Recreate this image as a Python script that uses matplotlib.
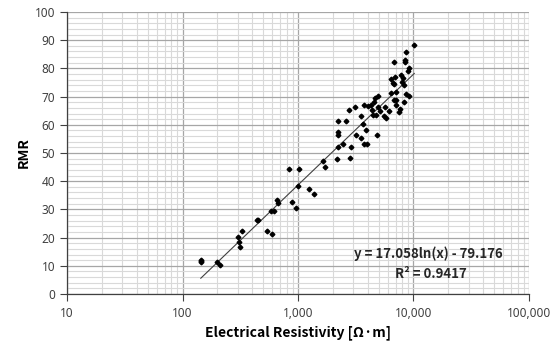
import numpy as np
import matplotlib.pyplot as plt
from matplotlib.ticker import FixedLocator, FuncFormatter, LogLocator, MultipleLocator

plt.rcParams['font.family'] = ['Noto Sans', 'DejaVu Sans']
bold_font = ['Noto Sans CJK KR', 'DejaVu Sans']

# resistivity [ohm.m] and RMR
resistivity = [145, 146, 144, 198, 211,
               304, 325, 306, 316, 444, 452, 542, 591, 580, 620, 654, 675,
               841, 1014, 1000, 1245, 1377, 881, 955, 1640, 1710,
               10160, 8610, 6770, 8440, 8520, 9140, 9030, 6340, 6920, 7750,
               8060, 6590, 6800, 7920, 8220, 7000, 8610, 9220, 6340, 7100,
               6770, 8320, 7640, 7480, 7070, 4900, 4640, 4550, 4260, 4070,
               3750, 3130, 2780, 4900, 5130, 5670, 6180, 5580, 5750, 4490,
               4720, 3490, 4350, 2210, 2620, 2210, 2220, 3630, 3850, 3170,
               3490, 4860, 2430, 2210, 2890, 3700, 3950, 2160, 2800]
rmr = [12.0, 11.2, 11.6, 11.4, 10.4,
       20.3, 22.4, 18.5, 16.5, 26.2, 26.2, 22.4, 21.3, 29.4, 29.4, 33.3, 32.4,
       44.2, 44.2, 38.4, 37.2, 35.4, 32.5, 30.4, 47.3, 45.2,
       88.2, 85.9, 82.2, 83.0, 82.2, 80.0, 79.2, 76.1, 77.1, 77.7,
       76.5, 74.7, 74.5, 75.3, 74.1, 71.7, 70.9, 70.2, 71.2, 68.8,
       68.8, 68.2, 65.7, 64.6, 67.0, 70.3, 69.4, 68.2, 67.0, 66.7,
       67.0, 66.2, 65.2, 66.2, 65.0, 66.2, 65.0, 63.1, 62.3, 63.4,
       63.4, 63.2, 65.2, 61.3, 61.3, 57.3, 56.3, 60.2, 58.2, 56.3,
       55.2, 56.3, 53.1, 52.2, 52.1, 53.2, 53.2, 47.8, 48.3]

# trend line from the chart's equation
slope = 17.058
intercept = -79.176
r2 = 0.9417

fig = plt.figure(figsize=(5.59, 3.45), dpi=100)
ax = fig.add_axes([0.1199, 0.1478, 0.8264, 0.8174])

ax.set_xscale('log')
ax.set_xlim(10, 100000)
ax.set_ylim(0, 100)

ax.xaxis.set_major_locator(FixedLocator([10, 100, 1000, 10000, 100000]))
ax.xaxis.set_minor_locator(LogLocator(base=10, subs=np.arange(2, 10)))
ax.xaxis.set_major_formatter(FuncFormatter(lambda v, p: '{:,.0f}'.format(v)))
ax.yaxis.set_major_locator(MultipleLocator(10))
ax.yaxis.set_minor_locator(MultipleLocator(2))

ax.grid(which='major', color='#a6a6a6', lw=0.9)
ax.grid(which='minor', color='#d9d9d9', lw=0.8)
ax.set_axisbelow(True)

for s in ['top', 'right']:
    ax.spines[s].set_visible(False)
for s in ['left', 'bottom']:
    ax.spines[s].set_color('#404040')
    ax.spines[s].set_linewidth(0.9)

ax.tick_params(which='major', direction='out', length=5, color='#404040',
               labelsize=8.5, labelcolor='#404040')
ax.tick_params(which='minor', length=0)
ax.tick_params(axis='x', pad=4)

ax.plot(resistivity, rmr, 'D', color='black', markersize=2.4, zorder=3)

xs = np.logspace(np.log10(min(resistivity)), np.log10(max(resistivity)), 100)
ax.plot(xs, slope * np.log(xs) + intercept, color='#404040', lw=0.8, zorder=2)

ax.text(0.782, 0.142, 'y = {:.3f}ln(x) - {:.3f}'.format(slope, -intercept),
        transform=ax.transAxes, ha='center', va='center', fontsize=9.5,
        fontweight='bold', color='#262626', family=bold_font)
ax.text(0.787, 0.071, 'R² = {:.4f}'.format(r2),
        transform=ax.transAxes, ha='center', va='center', fontsize=9.5,
        fontweight='bold', color='#262626', family=bold_font)

ax.set_xlabel('Electrical Resistivity [Ω·m]', fontsize=10, fontweight='bold',
              labelpad=4, family=bold_font)
ax.set_ylabel('RMR', fontsize=10, fontweight='bold', family=bold_font)
ax.yaxis.set_label_coords(-0.078, 0.5)

fig.savefig('out.png', dpi=100)
